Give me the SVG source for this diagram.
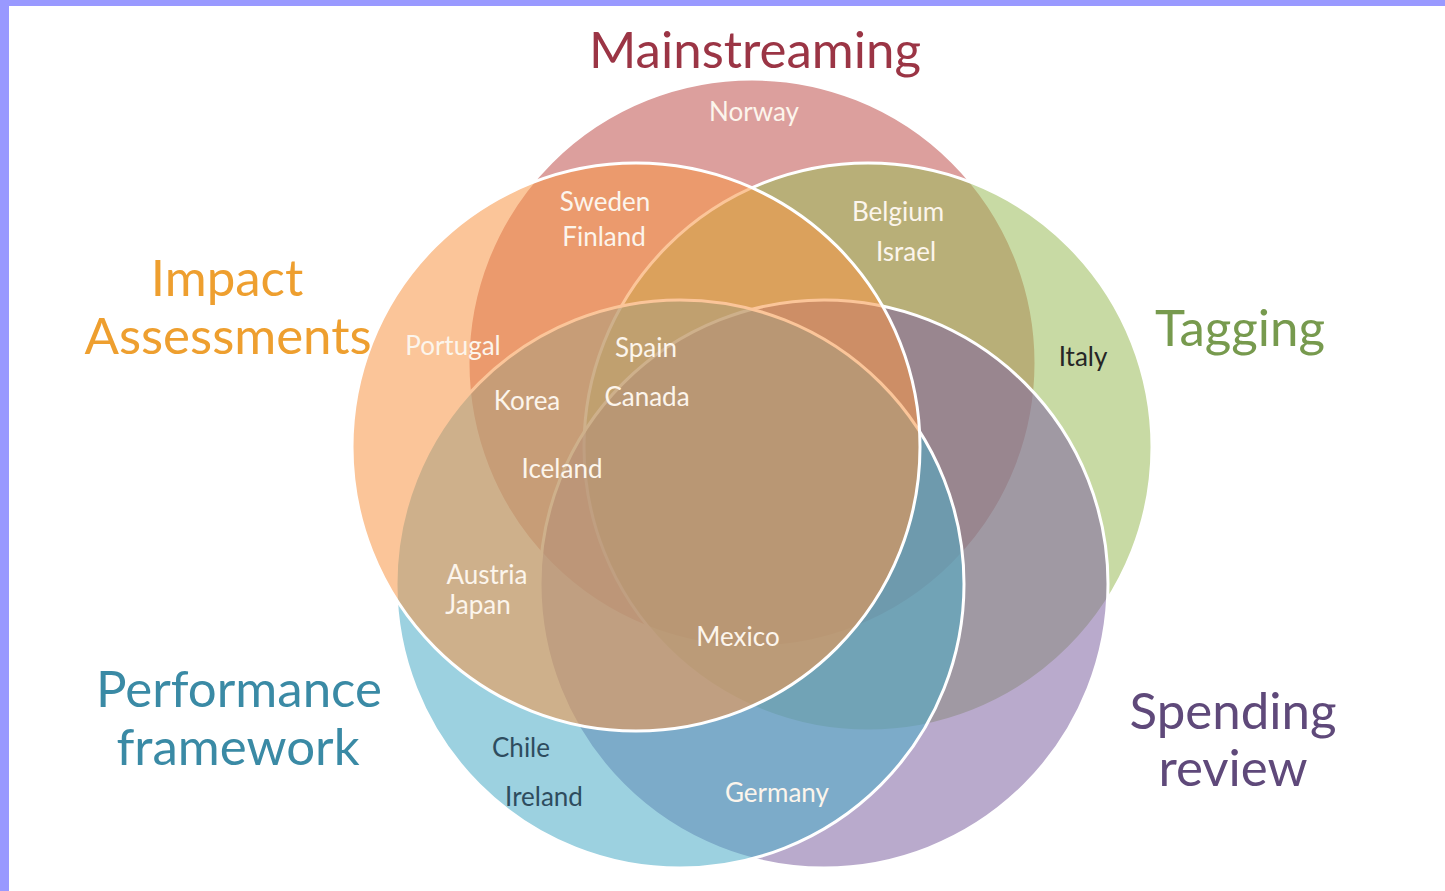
<svg xmlns="http://www.w3.org/2000/svg" width="1445" height="891" viewBox="0 0 1445 891">
<style>
.set{fill-opacity:0.55;stroke:#ffffff;stroke-width:3}
.title{font-family:Lato,"Liberation Sans",sans-serif;font-size:51px;text-anchor:middle}
.lbl{font-family:Lato,"Liberation Sans",sans-serif;font-size:26px;text-anchor:middle;fill:#fcf5ec}
.dark{fill:#262626}
.slate{fill:#2e4c5e}
</style>
<rect x="0" y="0" width="1445" height="891" fill="#ffffff"/>
<rect x="0" y="0" width="1445" height="6" fill="#9999ff"/>
<rect x="0" y="0" width="9" height="891" fill="#9999ff"/>

<g id="mainstreaming">
<circle class="set" cx="752" cy="363" r="284" fill="#c0504d"/>
<text class="title" x="755" y="68" fill="#9b3545">Mainstreaming</text>
</g>
<g id="tagging">
<circle class="set" cx="868" cy="447" r="284" fill="#9bbb59"/>
<text class="title" x="1240" y="346" fill="#779a4e">Tagging</text>
</g>
<g id="spending-review">
<circle class="set" cx="824" cy="584" r="284" fill="#8064a2"/>
<text class="title" x="1233" y="729" fill="#5f497a">Spending</text>
<text class="title" x="1233" y="786" fill="#5f497a">review</text>
</g>
<g id="performance-framework">
<circle class="set" cx="680" cy="584" r="284" fill="#4bacc6"/>
<text class="title" x="239" y="707" fill="#3a8aa5">Performance</text>
<text class="title" x="238" y="765" fill="#3a8aa5">framework</text>
</g>
<g id="impact-assessments">
<circle class="set" cx="636" cy="447" r="284" fill="#f79646"/>
<text class="title" x="227" y="296" fill="#ee9f2f">Impact</text>
<text class="title" x="228" y="354" fill="#ee9f2f">Assessments</text>
</g>

<g id="labels">
<text id="norway" class="lbl" x="754" y="121">Norway</text>
<text id="sweden" class="lbl" x="605" y="211">Sweden</text>
<text id="finland" class="lbl" x="604" y="246">Finland</text>
<text id="belgium" class="lbl" x="898" y="221">Belgium</text>
<text id="israel" class="lbl" x="906" y="261">Israel</text>
<text id="portugal" class="lbl" x="453" y="355">Portugal</text>
<text id="spain" class="lbl" x="646" y="357">Spain</text>
<text id="korea" class="lbl" x="527" y="410">Korea</text>
<text id="canada" class="lbl" x="647" y="406">Canada</text>
<text id="iceland" class="lbl" x="562" y="478">Iceland</text>
<text id="italy" class="lbl dark" x="1083" y="366">Italy</text>
<text id="austria" class="lbl" x="487" y="584">Austria</text>
<text id="japan" class="lbl" x="478" y="614">Japan</text>
<text id="mexico" class="lbl" x="738" y="646">Mexico</text>
<text id="chile" class="lbl slate" x="521" y="757">Chile</text>
<text id="ireland" class="lbl slate" x="544" y="806">Ireland</text>
<text id="germany" class="lbl" x="777" y="802">Germany</text>
</g>
</svg>
